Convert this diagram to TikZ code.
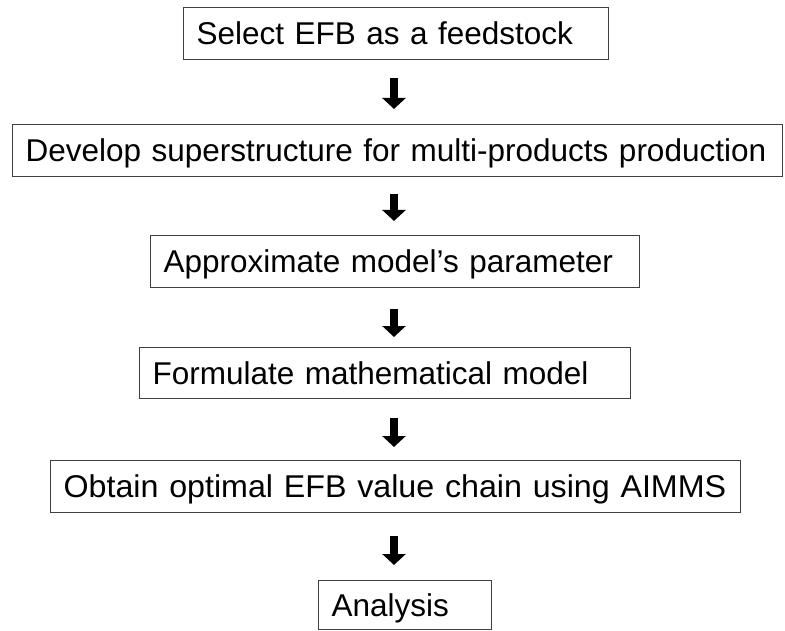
\documentclass[tikz,border=0pt]{standalone}
\usepackage{fontspec}
\setmainfont{Liberation Sans}
\usetikzlibrary{arrows.meta}
\begin{document}
\begin{tikzpicture}[x=1pt,y=1pt,
  box/.style={draw=black!75, line width=1.2pt, rectangle, anchor=north west,
    inner xsep=13pt, inner ysep=0pt, align=left,
    text height=22.5pt, text depth=0pt,
    font=\fontsize{31.5}{36}\selectfont},
  arr/.style={line width=8pt, black, -{Triangle[width=23pt,length=11pt]}}]
\useasboundingbox (0,0) rectangle (785,-631);
\coordinate (ax) at (394,0);
\node[box, text width=399pt, minimum height=52pt] (b1) at (183,-7) {Select EFB as a feedstock};
\node[box, text width=744pt, minimum height=52pt] (b2) at (12,-124) {Develop superstructure for multi-products production};
\node[box, text width=463pt, minimum height=52pt] (b3) at (150,-235) {Approximate model’s parameter};
\node[box, text width=465pt, minimum height=51pt] (b4) at (139,-347) {Formulate mathematical model};
\node[box, text width=664pt, minimum height=52pt] (b5) at (50,-460) {\scalebox{1.023}[1]{Obtain optimal EFB value chain using AIMMS}};
\node[box, text width=147pt, minimum height=49pt] (b6) at (318,-580) {Analysis};
\draw[arr, shorten <=18pt, shorten >=15pt] (b1.south -| ax) -- (b2.north -| ax);
\draw[arr, shorten <=17pt, shorten >=14pt] (b2.south -| ax) -- (b3.north -| ax);
\draw[arr, shorten <=21pt, shorten >=10pt] (b3.south -| ax) -- (b4.north -| ax);
\draw[arr, shorten <=19pt, shorten >=13pt] (b4.south -| ax) -- (b5.north -| ax);
\draw[arr, shorten <=23pt, shorten >=15pt] (b5.south -| ax) -- (b6.north -| ax);
\end{tikzpicture}
\end{document}
